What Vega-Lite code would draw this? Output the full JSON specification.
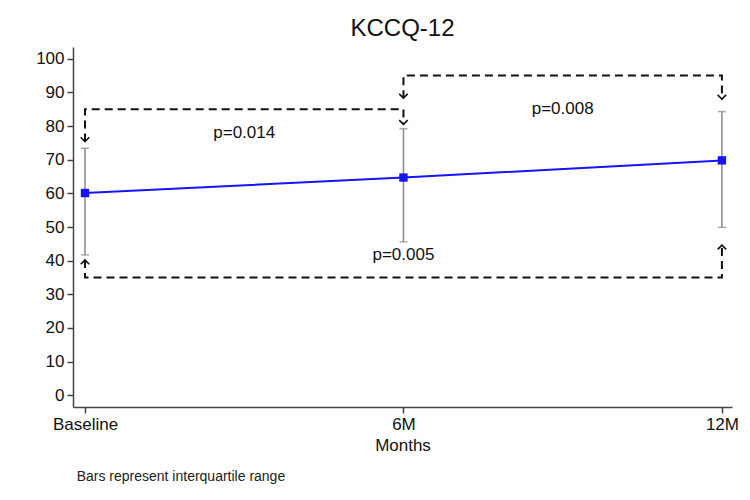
{
  "$schema": "https://vega.github.io/schema/vega-lite/v6.json",
  "background": "white",
  "padding": {"left": 35, "top": 17, "right": 10, "bottom": 5},
  "config": {
    "font": "Liberation Sans",
    "view": {"stroke": null},
    "axis": {
      "grid": false,
      "domainColor": "#444",
      "domainWidth": 1.5,
      "tickColor": "#444",
      "tickWidth": 1.5,
      "tickSize": 6,
      "labelFont": "Liberation Sans",
      "labelFontSize": 17,
      "labelColor": "#111",
      "labelPadding": 3,
      "titleFont": "Liberation Sans",
      "titleFontSize": 17,
      "titleFontWeight": "normal",
      "titleColor": "#111",
      "titlePadding": 5
    }
  },
  "datasets": {
    "stats": [
      {"month": 0, "label": "Baseline", "mean": 60.1, "q1": 41.7, "q3": 73.4},
      {"month": 6, "label": "6M", "mean": 64.7, "q1": 45.6, "q3": 79.2},
      {"month": 12, "label": "12M", "mean": 69.8, "q1": 49.9, "q3": 84.3}
    ],
    "brackets": [
      {"group": "A", "ord": 1, "month": 0, "value": 75.4},
      {"group": "A", "ord": 2, "month": 0, "value": 85},
      {"group": "A", "ord": 3, "month": 6, "value": 85},
      {"group": "A", "ord": 4, "month": 6, "value": 80.5},
      {"group": "B", "ord": 1, "month": 6, "value": 88.3},
      {"group": "B", "ord": 2, "month": 6, "value": 95},
      {"group": "B", "ord": 3, "month": 12, "value": 95},
      {"group": "B", "ord": 4, "month": 12, "value": 88.0},
      {"group": "C", "ord": 1, "month": 0, "value": 40.2},
      {"group": "C", "ord": 2, "month": 0, "value": 35},
      {"group": "C", "ord": 3, "month": 12, "value": 35},
      {"group": "C", "ord": 4, "month": 12, "value": 44.6}
    ],
    "arrows": [
      {"month": 0, "value": 75.4, "dir": "down"},
      {"month": 6, "value": 80.5, "dir": "down"},
      {"month": 6, "value": 88.3, "dir": "down"},
      {"month": 12, "value": 88.0, "dir": "down"},
      {"month": 0, "value": 40.2, "dir": "up"},
      {"month": 12, "value": 44.6, "dir": "up"}
    ],
    "pvals": [
      {"text": "p=0.014", "month": 3.0, "value": 77.9},
      {"text": "p=0.008", "month": 9.0, "value": 85.2},
      {"text": "p=0.005", "month": 6.0, "value": 41.7}
    ]
  },
  "title": {
    "text": "Bars represent interquartile range",
    "orient": "bottom",
    "anchor": "start",
    "fontSize": 14,
    "fontWeight": "normal",
    "color": "#222",
    "offset": 17,
    "dx": 41
  },
  "vconcat": [
    {
      "width": 659,
      "height": 360,
      "title": {"text": "KCCQ-12", "fontSize": 24, "fontWeight": "normal", "color": "#111", "anchor": "middle", "offset": 6},
      "layer": [
        {
          "data": {"name": "brackets"},
          "mark": {"type": "line", "strokeDash": [8, 5], "strokeWidth": 2, "color": "#111"},
          "encoding": {
            "x": {"field": "month", "type": "quantitative", "title": "Months", "scale": {"domain": [-0.226, 12.19], "nice": false, "zero": false}, "axis": {"values": [0, 6, 12], "labelExpr": "datum.value == 0 ? 'Baseline' : datum.value + 'M'"}},
            "y": {"field": "value", "type": "quantitative", "title": null, "scale": {"domain": [-3.5, 103.5], "nice": false, "zero": false}, "axis": {"values": [0, 10, 20, 30, 40, 50, 60, 70, 80, 90, 100]}},
            "detail": {"field": "group"},
            "order": {"field": "ord"}
          }
        },
        {
          "data": {"name": "arrows"},
          "mark": {"type": "point", "filled": false, "stroke": "#111", "strokeWidth": 1.6, "size": 200, "opacity": 1},
          "encoding": {
            "x": {"field": "month", "type": "quantitative", "title": "Months", "scale": {"domain": [-0.226, 12.19], "nice": false, "zero": false}, "axis": {"values": [0, 6, 12], "labelExpr": "datum.value == 0 ? 'Baseline' : datum.value + 'M'"}},
            "y": {"field": "value", "type": "quantitative", "title": null, "scale": {"domain": [-3.5, 103.5], "nice": false, "zero": false}, "axis": {"values": [0, 10, 20, 30, 40, 50, 60, 70, 80, 90, 100]}},
            "shape": {"field": "dir", "type": "nominal", "legend": null, "scale": {"domain": ["down", "up"], "range": ["M-0.6,-0.6L0,0L0.6,-0.6", "M-0.6,0.6L0,0L0.6,0.6"]}}
          }
        },
        {
          "data": {"name": "stats"},
          "mark": {"type": "rule", "color": "#888", "strokeWidth": 1.5},
          "encoding": {
            "x": {"field": "month", "type": "quantitative", "title": "Months", "scale": {"domain": [-0.226, 12.19], "nice": false, "zero": false}, "axis": {"values": [0, 6, 12], "labelExpr": "datum.value == 0 ? 'Baseline' : datum.value + 'M'"}},
            "y": {"field": "q1", "type": "quantitative", "title": null, "scale": {"domain": [-3.5, 103.5], "nice": false, "zero": false}, "axis": {"values": [0, 10, 20, 30, 40, 50, 60, 70, 80, 90, 100]}},
            "y2": {"field": "q3"}
          }
        },
        {
          "data": {"name": "stats"},
          "mark": {"type": "tick", "orient": "horizontal", "color": "#888", "size": 8, "thickness": 1.5},
          "encoding": {
            "x": {"field": "month", "type": "quantitative", "title": "Months", "scale": {"domain": [-0.226, 12.19], "nice": false, "zero": false}, "axis": {"values": [0, 6, 12], "labelExpr": "datum.value == 0 ? 'Baseline' : datum.value + 'M'"}},
            "y": {"field": "q1", "type": "quantitative", "title": null, "scale": {"domain": [-3.5, 103.5], "nice": false, "zero": false}, "axis": {"values": [0, 10, 20, 30, 40, 50, 60, 70, 80, 90, 100]}}
          }
        },
        {
          "data": {"name": "stats"},
          "mark": {"type": "tick", "orient": "horizontal", "color": "#888", "size": 8, "thickness": 1.5},
          "encoding": {
            "x": {"field": "month", "type": "quantitative", "title": "Months", "scale": {"domain": [-0.226, 12.19], "nice": false, "zero": false}, "axis": {"values": [0, 6, 12], "labelExpr": "datum.value == 0 ? 'Baseline' : datum.value + 'M'"}},
            "y": {"field": "q3", "type": "quantitative", "title": null, "scale": {"domain": [-3.5, 103.5], "nice": false, "zero": false}, "axis": {"values": [0, 10, 20, 30, 40, 50, 60, 70, 80, 90, 100]}}
          }
        },
        {
          "data": {"name": "stats"},
          "mark": {"type": "line", "color": "#1414ff", "strokeWidth": 2},
          "encoding": {
            "x": {"field": "month", "type": "quantitative", "title": "Months", "scale": {"domain": [-0.226, 12.19], "nice": false, "zero": false}, "axis": {"values": [0, 6, 12], "labelExpr": "datum.value == 0 ? 'Baseline' : datum.value + 'M'"}},
            "y": {"field": "mean", "type": "quantitative", "title": null, "scale": {"domain": [-3.5, 103.5], "nice": false, "zero": false}, "axis": {"values": [0, 10, 20, 30, 40, 50, 60, 70, 80, 90, 100]}}
          }
        },
        {
          "data": {"name": "stats"},
          "mark": {"type": "point", "shape": "square", "filled": true, "color": "#1414ff", "size": 70, "opacity": 1},
          "encoding": {
            "x": {"field": "month", "type": "quantitative", "title": "Months", "scale": {"domain": [-0.226, 12.19], "nice": false, "zero": false}, "axis": {"values": [0, 6, 12], "labelExpr": "datum.value == 0 ? 'Baseline' : datum.value + 'M'"}},
            "y": {"field": "mean", "type": "quantitative", "title": null, "scale": {"domain": [-3.5, 103.5], "nice": false, "zero": false}, "axis": {"values": [0, 10, 20, 30, 40, 50, 60, 70, 80, 90, 100]}}
          }
        },
        {
          "data": {"name": "pvals"},
          "mark": {"type": "text", "fontSize": 17, "color": "#111", "font": "Liberation Sans"},
          "encoding": {
            "x": {"field": "month", "type": "quantitative", "title": "Months", "scale": {"domain": [-0.226, 12.19], "nice": false, "zero": false}, "axis": {"values": [0, 6, 12], "labelExpr": "datum.value == 0 ? 'Baseline' : datum.value + 'M'"}},
            "y": {"field": "value", "type": "quantitative", "title": null, "scale": {"domain": [-3.5, 103.5], "nice": false, "zero": false}, "axis": {"values": [0, 10, 20, 30, 40, 50, 60, 70, 80, 90, 100]}},
            "text": {"field": "text"}
          }
        }
      ]
    }
  ]
}
